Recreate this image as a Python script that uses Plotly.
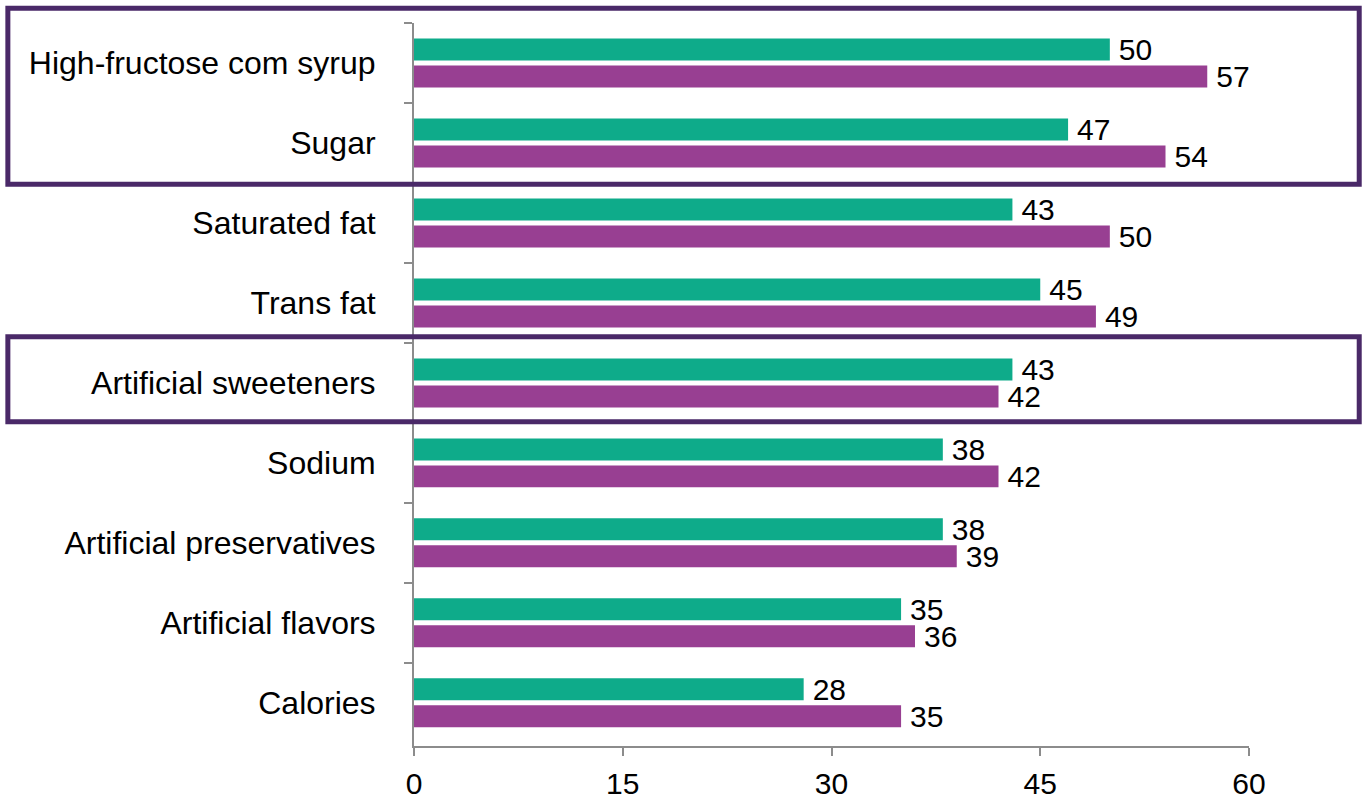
import plotly.graph_objects as go

# Ingredients, listed top to bottom
categories = [
    "High-fructose com syrup",
    "Sugar",
    "Saturated fat",
    "Trans fat",
    "Artificial sweeteners",
    "Sodium",
    "Artificial preservatives",
    "Artificial flavors",
    "Calories",
]
series_green = [50, 47, 43, 45, 43, 38, 38, 35, 28]
series_purple = [57, 54, 50, 49, 42, 42, 39, 36, 35]
x_ticks = [0, 15, 30, 45, 60]

GREEN = "#0eab8a"
PURPLE = "#983f92"
BOX = "#4a2968"
AXIS = "#8c8c8c"
FONT = "Liberation Sans, Arial, sans-serif"

fig = go.Figure()
for vals, color in [(series_green, GREEN), (series_purple, PURPLE)]:
    fig.add_trace(go.Bar(
        y=categories, x=vals, orientation="h",
        marker=dict(color=color, line=dict(width=0)),
        text=["\u2009" + str(v) for v in vals], textposition="outside",
        textfont=dict(family=FONT, size=30, color="#000000"),
        constraintext="none", cliponaxis=False, showlegend=False,
    ))

fig.update_layout(
    width=1365, height=801,
    margin=dict(l=414, r=116, t=23, b=55),
    paper_bgcolor="white", plot_bgcolor="white",
    barmode="group", bargap=0.325, bargroupgap=0.185,
    font=dict(family=FONT, size=30, color="#000000"),
)
fig.update_xaxes(
    range=[0, 60], tickvals=x_ticks, ticktext=[str(t) for t in x_ticks],
    showgrid=False, zeroline=False, automargin=False,
    showline=True, linecolor=AXIS, linewidth=2,
    ticks="outside", ticklen=8, tickwidth=2, tickcolor=AXIS,
    ticklabelstandoff=2,
    tickfont=dict(family=FONT, size=30, color="#000000"),
)
fig.update_yaxes(
    range=[len(categories) - 0.46, -0.5], showgrid=False, zeroline=False,
    automargin=False,
    showline=True, linecolor=AXIS, linewidth=2,
    ticks="outside", ticklen=8, tickwidth=2, tickcolor=AXIS,
    tickson="boundaries", ticklabelstandoff=30,
    tickfont=dict(family=FONT, size=32, color="#000000"),
)

# Highlight boxes around the sweetener-related rows
fig.add_shape(type="rect", xref="paper", yref="paper",
              x0=-0.4864, x1=1.132, y0=0.7770, y1=1.0203,
              line=dict(color=BOX, width=5), layer="above")
fig.add_shape(type="rect", xref="paper", yref="paper",
              x0=-0.4864, x1=1.132, y0=0.4484, y1=0.5659,
              line=dict(color=BOX, width=5), layer="above")

fig.write_html("out.html")
